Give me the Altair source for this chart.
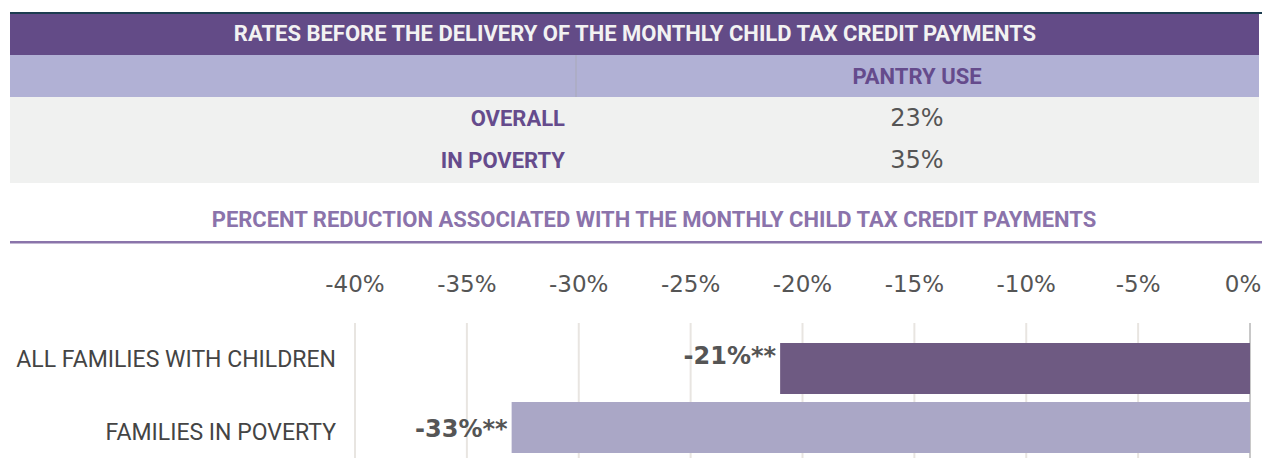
import altair as alt
import pandas as pd

header_title = "RATES BEFORE THE DELIVERY OF THE MONTHLY CHILD TAX CREDIT PAYMENTS"
column_header = "PANTRY USE"
table_rows = ["OVERALL", "IN POVERTY"]
pantry_use = ["23%", "35%"]
subtitle = "PERCENT REDUCTION ASSOCIATED WITH THE MONTHLY CHILD TAX CREDIT PAYMENTS"
groups = ["ALL FAMILIES WITH CHILDREN", "FAMILIES IN POVERTY"]
reductions = [-21, -33]
value_labels = ["-21%**", "-33%**"]
tick_values = [-40, -35, -30, -25, -20, -15, -10, -5, 0]
tick_labels = ["-40%", "-35%", "-30%", "-25%", "-20%", "-15%", "-10%", "-5%", "0%"]

W, H = 1254, 450
HEAD = "Roboto, sans-serif"
COND = "Roboto, sans-serif"
WIDE = "DejaVu Sans, sans-serif"

one = pd.DataFrame({"k": [0]})
table_df = pd.DataFrame({"row": table_rows, "value": pantry_use})
bars_df = pd.DataFrame({"group": groups, "reduction": reductions, "label": value_labels})
ticks_df = pd.DataFrame({"tick": tick_values, "label": tick_labels})

xs = alt.Scale(domain=[-40, 0], range=[347, 1242], nice=False, zero=False)
ys_bar = alt.Scale(domain=groups, range=[335, 445], paddingInner=0.1356, paddingOuter=0)
ys_lab = alt.Scale(domain=groups, range=[315.5, 461.5], paddingInner=0, paddingOuter=0)
ys_tab = alt.Scale(domain=table_rows, range=[90, 174], paddingInner=0, paddingOuter=0)


def band(x1, x2, y1, y2, color):
    return alt.Chart(one).mark_rect(color=color).encode(
        x=alt.value(x1), x2=alt.value(x2), y=alt.value(y1), y2=alt.value(y2)
    )


def label(text, x, y, color, size, font=HEAD, weight="bold", align="center"):
    return alt.Chart(one).mark_text(
        text=text, color=color, fontSize=size, font=font, fontWeight=weight,
        align=align, baseline="middle"
    ).encode(x=alt.value(x), y=alt.value(y))


header_bg = band(2, 1251, 5, 47, "#634b87")
top_line = band(2, 1254, 4, 6, "#1c3c50")
lav_bg = band(2, 1251, 47, 89, "#b1b1d5")
gray_bg = band(2, 1251, 89, 175, "#f0f1f0")
divider = band(567.5, 568.5, 47, 89, "#a9a9b8")
header_txt = label(header_title, 627, 26, "#f2f2f2", 22)
col_txt = label(column_header, 909, 69, "#654b8c", 22)
sub_txt = label(subtitle, 646, 212, "#8b73ab", 22)
sub_line = band(2, 1254, 233, 235.5, "#8a74aa")

row_labels = alt.Chart(table_df).mark_text(
    color="#654b8c", fontSize=22, font=HEAD, fontWeight="bold", align="right", baseline="middle"
).encode(
    y=alt.Y("row:N", scale=ys_tab, axis=None, sort=table_rows, bandPosition=0.5),
    x=alt.value(557), text="row:N"
)
row_values = alt.Chart(table_df).mark_text(
    color="#555555", fontSize=24, font=WIDE, fontWeight="normal", align="center", baseline="middle"
).encode(
    y=alt.Y("row:N", scale=ys_tab, axis=None, sort=table_rows, bandPosition=0.5),
    x=alt.value(909), text="value:N"
)

grid = alt.Chart(ticks_df).mark_rule(strokeWidth=2).encode(
    x=alt.X("tick:Q", scale=xs, axis=None),
    y=alt.value(315), y2=alt.value(450),
    color=alt.condition(alt.datum.tick == 0, alt.value("#c8c8c8"), alt.value("#e8e5e1")),
)
tick_txt = alt.Chart(ticks_df).mark_text(
    color="#555555", fontSize=23, font=WIDE, fontWeight="normal", baseline="middle",
    dx=alt.expr("datum.tick == 0 ? -7 : 0"),
).encode(
    x=alt.X("tick:Q", scale=xs, axis=None), y=alt.value(277), text="label:N"
)

bars = alt.Chart(bars_df).mark_bar().encode(
    x=alt.X("reduction:Q", scale=xs, axis=None),
    x2=alt.datum(0),
    y=alt.Y("group:N", scale=ys_bar, axis=None, sort=groups),
    color=alt.Color("group:N", scale=alt.Scale(domain=groups, range=["#6e5a82", "#aaa7c6"]), legend=None),
)
bar_vals = alt.Chart(bars_df).mark_text(
    color="#555555", fontSize=24, font=WIDE, fontWeight="bold", align="right", baseline="middle", dx=-4, dy=-3
).encode(
    x=alt.X("reduction:Q", scale=xs, axis=None),
    y=alt.Y("group:N", scale=ys_lab, axis=None, sort=groups, bandPosition=0.5),
    text="label:N",
)
cat_txt = alt.Chart(bars_df).mark_text(
    color="#444444", fontSize=23, font=COND, fontWeight="normal", align="right", baseline="middle"
).encode(
    x=alt.value(328),
    y=alt.Y("group:N", scale=ys_lab, axis=None, sort=groups, bandPosition=0.5),
    text="group:N",
)

chart = alt.layer(
    header_bg, top_line, lav_bg, gray_bg, divider, header_txt, col_txt,
    row_labels, row_values, sub_txt, sub_line,
    grid, tick_txt, bars, bar_vals, cat_txt,
).resolve_scale(y="independent").properties(
    width=W, height=H, padding=0, autosize=alt.AutoSizeParams(type="none")
).configure_view(stroke=None)

chart.save("out.html", embed_options={"renderer": "svg", "actions": False})
